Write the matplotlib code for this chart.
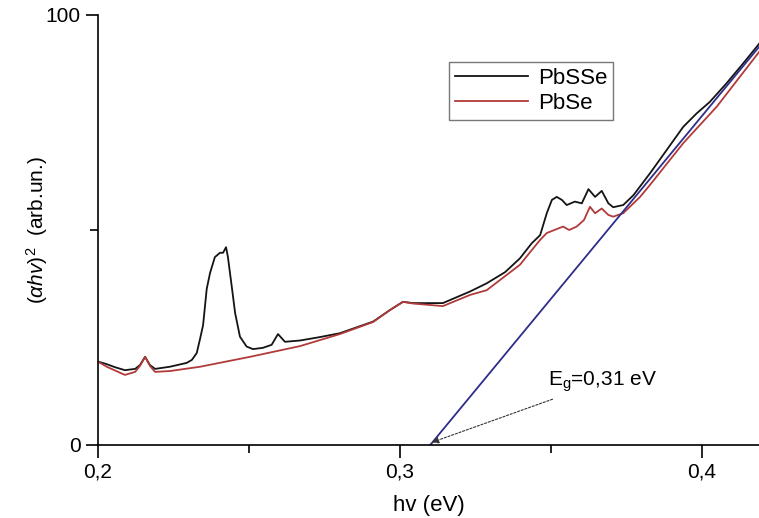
import numpy as np
import matplotlib.pyplot as plt
from matplotlib.ticker import FixedLocator, FuncFormatter

plt.rcParams['font.family'] = ['Liberation Sans', 'DejaVu Sans']
plt.rcParams['mathtext.fontset'] = 'custom'
plt.rcParams['mathtext.it'] = 'Liberation Sans:italic'
plt.rcParams['mathtext.rm'] = 'Liberation Sans'

# ---------------------------------------------------------------
# Data
# ---------------------------------------------------------------
pbsse_x = [0.2000, 0.2029, 0.2056, 0.2089, 0.2123, 0.2139, 0.2156, 0.2172, 0.2189,
           0.2238, 0.2294, 0.2311, 0.2327, 0.2338, 0.2348, 0.2360, 0.2371, 0.2387,
           0.2404, 0.2414, 0.2424, 0.2430, 0.2443, 0.2454, 0.2470, 0.2492, 0.2513,
           0.2546, 0.2575, 0.2596, 0.2619, 0.2669, 0.2735, 0.2801, 0.2911, 0.2967,
           0.3010, 0.3043, 0.3142, 0.3232, 0.3287, 0.3348, 0.3397, 0.3436, 0.3464,
           0.3486, 0.3503, 0.3519, 0.3536, 0.3552, 0.3579, 0.3602, 0.3624, 0.3646,
           0.3668, 0.3690, 0.3706, 0.3739, 0.3773, 0.3828, 0.3883, 0.3938, 0.3982,
           0.4026, 0.4081, 0.4137, 0.4189]
pbsse_y = [19.4, 18.8, 18.1, 17.4, 17.7, 18.6, 20.5, 18.6, 17.7,
           18.2, 19.1, 19.8, 21.4, 24.7, 27.9, 36.3, 40.0, 43.7,
           44.7, 44.7, 46.0, 43.8, 36.8, 30.7, 25.2, 22.9, 22.3,
           22.6, 23.3, 25.8, 24.0, 24.3, 25.1, 26.0, 28.7, 31.4,
           33.3, 33.0, 33.0, 35.7, 37.6, 40.2, 43.4, 46.9, 48.8,
           53.9, 57.0, 57.7, 57.0, 55.8, 56.6, 56.2, 59.5, 57.7,
           59.1, 56.2, 55.3, 55.8, 58.1, 63.2, 68.6, 74.0, 77.1,
           79.8, 84.1, 88.8, 93.3]

pbse_x = [0.2000, 0.2029, 0.2089, 0.2123, 0.2139, 0.2156, 0.2172, 0.2189, 0.2238,
          0.2338, 0.2503, 0.2669, 0.2801, 0.2911, 0.2967, 0.3010, 0.3043, 0.3142,
          0.3232, 0.3287, 0.3397, 0.3436, 0.3464, 0.3486, 0.3540, 0.3560, 0.3585,
          0.3609, 0.3629, 0.3646, 0.3668, 0.3690, 0.3706, 0.3739, 0.3795, 0.3828,
          0.3938, 0.4049, 0.4189]
pbse_y = [19.4, 18.2, 16.3, 17.0, 18.4, 20.5, 18.4, 17.0, 17.2,
          18.2, 20.5, 23.0, 25.8, 28.6, 31.4, 33.3, 32.9, 32.3,
          34.9, 36.0, 41.9, 45.3, 47.7, 49.3, 50.8, 50.0, 50.8,
          52.3, 55.4, 53.9, 55.0, 53.5, 53.1, 53.9, 57.7, 60.5,
          70.2, 78.7, 91.4]

# Tauc fit line
fit_x = [0.310, 0.4189]
fit_y = [0.0, 92.6]

eg_label = "E$_\\mathrm{g}$=0,31 eV"

# ---------------------------------------------------------------
# Plot
# ---------------------------------------------------------------
fig = plt.figure(figsize=(7.59, 5.18), dpi=100)
ax = fig.add_axes([98 / 759, 73 / 518, 661 / 759, 430 / 518])

ax.plot(pbsse_x, pbsse_y, color="#141414", lw=1.3, label="PbSSe")
ax.plot(pbse_x, pbse_y, color="#b23a3a", lw=1.3, label="PbSe")
ax.plot(fit_x, fit_y, color="#2e2e8a", lw=1.3)

ax.set_xlim(0.2, 0.2 + 661 / 3020)
ax.set_ylim(0, 100)

ax.spines["top"].set_visible(False)
ax.spines["right"].set_visible(False)
for s in ("left", "bottom"):
    ax.spines[s].set_linewidth(1.2)

ax.xaxis.set_major_locator(FixedLocator([0.2, 0.3, 0.4]))
ax.xaxis.set_minor_locator(FixedLocator([0.25, 0.35]))
ax.xaxis.set_major_formatter(FuncFormatter(lambda v, p: f"{v:.1f}".replace(".", ",")))
ax.yaxis.set_major_locator(FixedLocator([0, 100]))
ax.yaxis.set_minor_locator(FixedLocator([50]))
ax.tick_params(which="major", length=9, width=1.2, labelsize=15, direction="out")
ax.tick_params(which="minor", length=6, width=1.2, direction="out")

ax.set_xlabel("hv (eV)", fontsize=16, labelpad=10)
ax.set_ylabel("($\\alpha hv$)$^2$  (arb.un.)", fontsize=15)
ax.yaxis.set_label_coords(-0.072, 0.50)

leg = ax.legend(loc="upper left", bbox_to_anchor=((449 - 98) / 661, (445 - 62) / 430),
                fontsize=16, frameon=True, fancybox=False, handlelength=3.3,
                borderpad=0.25, labelspacing=0.2, handletextpad=0.45,
                borderaxespad=0)
leg.get_frame().set_edgecolor("#555555")
leg.get_frame().set_linewidth(1.0)

ax.annotate(eg_label, xy=(0.3105, 0.6), xytext=(0.3490, 14.8),
            fontsize=15, va="center", ha="left",
            arrowprops=dict(arrowstyle="-|>", linestyle=(0, (2, 1.5)), color="#333333",
                            lw=0.8, shrinkA=6, shrinkB=0, mutation_scale=10))

fig.savefig("out.png", dpi=100)
